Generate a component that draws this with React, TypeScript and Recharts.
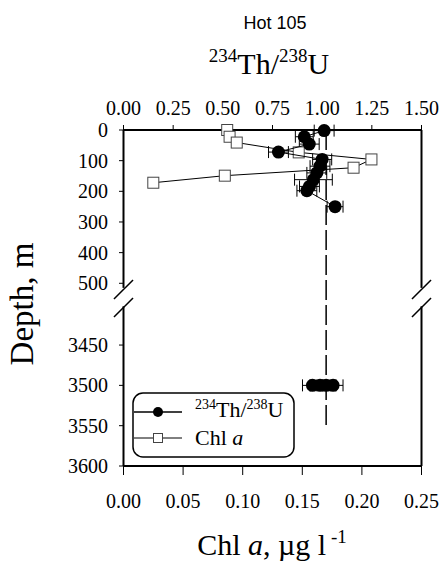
import React from 'react';
import { ScatterChart, Scatter, XAxis, YAxis, ErrorBar, ReferenceLine, Legend } from 'recharts';

// 234Th/238U profile (upper 0-500 m)
const thDepths = [2, 22, 46, 72, 96, 118, 140, 162, 184, 198, 250];
const thValues = [1.01, 0.91, 0.935, 0.78, 1.0, 0.989, 0.973, 0.956, 0.936, 0.923, 1.065];
const thErrors = [0.05, 0.045, 0.05, 0.05, 0.048, 0.05, 0.05, 0.095, 0.05, 0.05, 0.04];

// 234Th/238U near the bottom
const deepDepths = [3500, 3500, 3500, 3500];
const deepValues = [0.951, 0.989, 1.02, 1.055];
const deepErrors = [0.05, 0.05, 0.05, 0.05];

// Chl a
const chlDepths = [0, 22, 41, 73, 96, 123, 149, 172];
const chlValues = [0.087, 0.089, 0.095, 0.147, 0.208, 0.193, 0.085, 0.025];

const thTicks = [0, 0.25, 0.5, 0.75, 1, 1.25, 1.5];
const chlTicks = [0, 0.05, 0.1, 0.15, 0.2, 0.25];
const depthTicks = [0, 100, 200, 300, 400, 500, 3450, 3500, 3550, 3600];

const equilibrium = 1.02;
const equilibriumEnd = 3550;

// broken depth axis: 0-500 m on top, 3400-3600 m stretched below
const LOWER_MIN = 3400;
const LOWER_START = 570;
const LOWER_SCALE = 2.63;
const toAxis = (d: number) => (d <= 1000 ? d : LOWER_START + (d - LOWER_MIN) * LOWER_SCALE);
const Y_MAX = toAxis(3600);

const thData = thDepths.map((d, i) => ({ x: thValues[i], y: toAxis(d), err: thErrors[i] }));
const deepData = deepDepths.map((d, i) => ({ x: deepValues[i], y: toAxis(d), err: deepErrors[i] }));
const chlData = chlDepths.map((d, i) => ({ x: chlValues[i], y: toAxis(d) }));

const serif = '"Liberation Serif", "Times New Roman", serif';
const serifStyle = { fontFamily: serif };

const depthLabel = (v: number) => {
  const d = depthTicks.find((t) => Math.abs(toAxis(t) - v) < 0.01);
  return d === undefined ? '' : String(d);
};

const TopTick = (p: any) => (
  <text x={p.x} y={p.y} textAnchor="middle" style={serifStyle} fontSize={20} fill="#000">
    {Number(p.payload.value).toFixed(2)}
  </text>
);
const BottomTick = (p: any) => (
  <text x={p.x} y={p.y + 14} textAnchor="middle" style={serifStyle} fontSize={20} fill="#000">
    {Number(p.payload.value).toFixed(2)}
  </text>
);
const LeftTick = (p: any) => (
  <text x={p.x} y={p.y + 7} textAnchor="end" style={serifStyle} fontSize={20} fill="#000">
    {depthLabel(p.payload.value)}
  </text>
);

const Dot = (p: any) => <circle cx={p.cx} cy={p.cy} r={6.5} fill="#000" />;
const Square = (p: any) => (
  <rect x={p.cx - 5.5} y={p.cy - 5.5} width={11} height={11} fill="#fff" stroke="#444" strokeWidth={1} />
);

const LegendBox = () => (
  <svg width={164} height={68} style={{ display: 'block' }}>
    <rect x={1} y={1} width={161} height={64} rx={10} fill="#fff" stroke="#000" strokeWidth={1.5} />
    <line x1={2} y1={20} x2={50} y2={20} stroke="#000" strokeWidth={1.5} />
    <circle cx={26} cy={20} r={5} fill="#000" />
    <text x={63} y={25} style={serifStyle} fontSize={22} fill="#000">
      <tspan fontSize={14} dy={-8}>234</tspan>
      <tspan dy={8}>Th/</tspan>
      <tspan fontSize={14} dy={-8}>238</tspan>
      <tspan dy={8}>U</tspan>
    </text>
    <line x1={2} y1={46} x2={50} y2={46} stroke="#000" strokeWidth={1} />
    <rect x={21.5} y={41.5} width={9} height={9} fill="#fff" stroke="#444" strokeWidth={1} />
    <text x={63} y={53} style={serifStyle} fontSize={22} fill="#000">
      Chl <tspan fontStyle="italic">a</tspan>
    </text>
  </svg>
);

const seg = (x1: number, y1: number, x2: number, y2: number) => [
  { x: x1, y: y1 },
  { x: x2, y: y2 },
];

export default function App() {
  const sx = 0.008;
  return (
    <div style={{ position: 'absolute', left: 0, top: 0, width: 441, height: 563, background: '#fff', fontFamily: serif }}>
      <ScatterChart
        width={441}
        height={563}
        margin={{ top: 100, right: 19.5, bottom: 67, left: 0 }}
        style={serifStyle}
      >
        <XAxis
          xAxisId="th"
          orientation="top"
          type="number"
          dataKey="x"
          domain={[0, 1.5]}
          ticks={thTicks}
          height={30}
          tick={TopTick}
          tickSize={5}
          tickMargin={10.5}
          axisLine={{ stroke: '#000', strokeWidth: 2 }}
          tickLine={{ stroke: '#000', strokeWidth: 1 }}
        />
        <XAxis
          xAxisId="chl"
          orientation="bottom"
          type="number"
          dataKey="x"
          domain={[0, 0.25]}
          ticks={chlTicks}
          height={30}
          tick={BottomTick}
          tickSize={9}
          tickMargin={19}
          axisLine={{ stroke: '#000', strokeWidth: 2 }}
          tickLine={{ stroke: '#000', strokeWidth: 1 }}
        />
        <YAxis
          type="number"
          dataKey="y"
          domain={[0, Y_MAX]}
          reversed
          ticks={depthTicks.map(toAxis)}
          width={123.5}
          tick={LeftTick}
          tickSize={4.5}
          tickMargin={11}
          axisLine={false}
          tickLine={{ stroke: '#000', strokeWidth: 1 }}
        />

        {/* plot frame with the axis break */}
        <ReferenceLine xAxisId="chl" segment={seg(0, 0, 0, 515)} stroke="#000" strokeWidth={2} ifOverflow="visible" />
        <ReferenceLine xAxisId="chl" segment={seg(0, 575, 0, Y_MAX)} stroke="#000" strokeWidth={2} ifOverflow="visible" />
        <ReferenceLine xAxisId="chl" segment={seg(0.25, 0, 0.25, 515)} stroke="#000" strokeWidth={2} ifOverflow="visible" />
        <ReferenceLine xAxisId="chl" segment={seg(0.25, 575, 0.25, Y_MAX)} stroke="#000" strokeWidth={2} ifOverflow="visible" />
        <ReferenceLine xAxisId="chl" segment={seg(-sx, 551, sx, 489)} stroke="#000" strokeWidth={1.5} ifOverflow="visible" />
        <ReferenceLine xAxisId="chl" segment={seg(-sx, 610, sx, 548)} stroke="#000" strokeWidth={1.5} ifOverflow="visible" />
        <ReferenceLine xAxisId="chl" segment={seg(0.25 - sx, 551, 0.25 + sx, 489)} stroke="#000" strokeWidth={1.5} ifOverflow="visible" />
        <ReferenceLine xAxisId="chl" segment={seg(0.25 - sx, 610, 0.25 + sx, 548)} stroke="#000" strokeWidth={1.5} ifOverflow="visible" />

        <ReferenceLine
          xAxisId="th"
          segment={seg(equilibrium, 0, equilibrium, toAxis(equilibriumEnd))}
          stroke="#000"
          strokeWidth={1.5}
          strokeDasharray="20 5"
          ifOverflow="visible"
        />

        <Scatter
          name="Chl a"
          data={chlData}
          xAxisId="chl"
          shape={Square}
          line={{ stroke: '#000', strokeWidth: 1 }}
          isAnimationActive={false}
        />
        <Scatter
          name="234Th/238U"
          data={thData}
          xAxisId="th"
          shape={Dot}
          line={{ stroke: '#000', strokeWidth: 1 }}
          isAnimationActive={false}
        >
          <ErrorBar dataKey="err" direction="x" width={6} stroke="#000" strokeWidth={1} />
        </Scatter>
        <Scatter name="234Th/238U deep" data={deepData} xAxisId="th" shape={Dot} isAnimationActive={false}>
          <ErrorBar dataKey="err" direction="x" width={6} stroke="#000" strokeWidth={1} />
        </Scatter>

        <Legend
          layout="horizontal"
          verticalAlign="middle"
          align="center"
          content={() => <LegendBox />}
          wrapperStyle={{ left: 132, top: 392, width: 164, height: 68 }}
        />
      </ScatterChart>

      <svg
        width={441}
        height={563}
        style={{ position: 'absolute', left: 0, top: 0, pointerEvents: 'none' }}
      >
        <text x={275} y={29} textAnchor="middle" fontFamily='"Liberation Sans", Arial, sans-serif' fontSize={18} fill="#000">
          Hot 105
        </text>
        <text x={269} y={74} textAnchor="middle" style={serifStyle} fontSize={30} fill="#000">
          <tspan fontSize={19} dy={-12}>234</tspan>
          <tspan dy={12}>Th/</tspan>
          <tspan fontSize={19} dy={-12}>238</tspan>
          <tspan dy={12}>U</tspan>
        </text>
        <text x={272} y={555} textAnchor="middle" style={serifStyle} fontSize={30} fill="#000">
          Chl <tspan fontStyle="italic">a</tspan>, µg l
          <tspan fontSize={19} dy={-12}> -1</tspan>
        </text>
        <text
          x={0}
          y={0}
          transform="translate(33 304) rotate(-90)"
          textAnchor="middle"
          style={serifStyle}
          fontSize={33}
          fill="#000"
        >
          Depth, m
        </text>
      </svg>
    </div>
  );
}
